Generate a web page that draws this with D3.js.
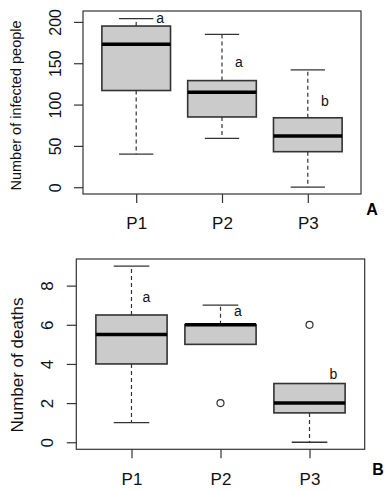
<!DOCTYPE html>
<html><head><meta charset="utf-8">
<script src="https://cdn.jsdelivr.net/npm/d3@7"></script>
<style>
html,body{margin:0;padding:0;background:#fff;}
svg{display:block;font-family:"Liberation Sans",Arial,sans-serif;}
</style></head>
<body>
<svg id="chart" width="392" height="492"></svg>
<script>
// ---- data ----
const categories = ["P1", "P2", "P3"];

// Panel A: Number of infected people
const infMin = [40, 59, 0];
const infQ1  = [117, 85, 43];
const infMed = [173, 115, 62];
const infQ3  = [195, 129, 84];
const infMax = [204, 185, 142];
const infOutliers = [[], [], []];
const infTicks = [0, 50, 100, 150, 200];
const infLetters = ["a", "a", "b"];
const infLetterY = [199, 146, 98];

// Panel B: Number of deaths
const deathMin = [1, 5, 0];
const deathQ1  = [4, 5, 1.5];
const deathMed = [5.5, 6, 2];
const deathQ3  = [6.5, 6, 3];
const deathMax = [9, 7, 3];
const deathOutliers = [[], [2], [6]];
const deathTicks = [0, 2, 4, 6, 8];
const deathLetters = ["a", "a", "b"];
const deathLetterY = [7.15, 6.47, 3.24];

const svg = d3.select("#chart");

function panel(cfg) {
  const g = svg.append("g");
  const x = d3.scaleLinear().domain([0.38, 3.62]).range([cfg.left, cfg.right]);
  const y = d3.scaleLinear().domain(cfg.ydom).range([cfg.bottom, cfg.top]);
  const unit = x(2) - x(1);
  const halfBox = unit * 0.4, halfCap = unit * 0.2;
  const stroke = "#333";

  const data = categories.map((c, i) => ({
    i: i + 1, c, min: cfg.min[i], q1: cfg.q1[i], med: cfg.med[i],
    q3: cfg.q3[i], max: cfg.max[i], out: cfg.out[i],
    letter: cfg.letters[i], ly: cfg.letterY[i], ldx: cfg.letterDx[i]
  }));

  // whiskers
  data.forEach(d => {
    if (d.max > d.q3) {
      g.append("line").attr("x1", x(d.i)).attr("x2", x(d.i))
        .attr("y1", y(d.q3)).attr("y2", y(d.max))
        .attr("stroke", stroke).attr("stroke-width", 1.2).attr("stroke-dasharray", "4,3");
      g.append("line").attr("x1", x(d.i) - halfCap).attr("x2", x(d.i) + halfCap)
        .attr("y1", y(d.max)).attr("y2", y(d.max))
        .attr("stroke", stroke).attr("stroke-width", 1.3);
    }
    if (d.min < d.q1) {
      g.append("line").attr("x1", x(d.i)).attr("x2", x(d.i))
        .attr("y1", y(d.q1)).attr("y2", y(d.min))
        .attr("stroke", stroke).attr("stroke-width", 1.2).attr("stroke-dasharray", "4,3");
      g.append("line").attr("x1", x(d.i) - halfCap).attr("x2", x(d.i) + halfCap)
        .attr("y1", y(d.min)).attr("y2", y(d.min))
        .attr("stroke", stroke).attr("stroke-width", 1.3);
    }
  });

  // boxes
  g.selectAll("rect.box").data(data).enter().append("rect")
    .attr("class", "box")
    .attr("x", d => x(d.i) - halfBox).attr("width", halfBox * 2)
    .attr("y", d => y(d.q3)).attr("height", d => y(d.q1) - y(d.q3))
    .attr("fill", "#cbcbcb").attr("stroke", stroke).attr("stroke-width", 1.6);

  // medians
  g.selectAll("line.med").data(data).enter().append("line")
    .attr("x1", d => x(d.i) - halfBox).attr("x2", d => x(d.i) + halfBox)
    .attr("y1", d => y(d.med)).attr("y2", d => y(d.med))
    .attr("stroke", "#000").attr("stroke-width", 3.5);

  // outliers
  data.forEach(d => d.out.forEach(v => {
    g.append("circle").attr("cx", x(d.i)).attr("cy", y(v)).attr("r", 3.5)
      .attr("fill", "none").attr("stroke", stroke).attr("stroke-width", 1.2);
  }));

  // letters
  g.selectAll("text.let").data(data).enter().append("text")
    .attr("x", d => x(d.i) + d.ldx).attr("y", d => y(d.ly))
    .attr("text-anchor", "middle").attr("font-size", 14).attr("fill", "#111")
    .text(d => d.letter);

  // frame
  g.append("rect").attr("x", cfg.left).attr("y", cfg.top)
    .attr("width", cfg.right - cfg.left).attr("height", cfg.bottom - cfg.top)
    .attr("fill", "none").attr("stroke", stroke).attr("stroke-width", 1.2);

  // y axis
  const yAxis = d3.axisLeft(y).tickValues(cfg.ticks).tickSize(cfg.tickLen).tickSizeOuter(0)
    .tickFormat(d3.format("d"));
  const ya = g.append("g").attr("transform", `translate(${cfg.left},0)`).call(yAxis);
  ya.select(".domain").remove();
  ya.selectAll(".tick line").attr("stroke", stroke).attr("stroke-width", 1.2);
  ya.selectAll(".tick text")
    .attr("x", null).attr("dy", null)
    .attr("transform", `translate(${cfg.tickLabelX - cfg.left},0) rotate(-90)`)
    .attr("text-anchor", "middle")
    .attr("font-size", cfg.tickFont).attr("fill", "#111")
    .attr("font-family", "Liberation Sans, Arial, sans-serif");

  // x axis
  const xAxis = d3.axisBottom(x).tickValues([1, 2, 3]).tickSize(cfg.xTickLen)
    .tickFormat(d => categories[d - 1]);
  const xa = g.append("g").attr("transform", `translate(0,${cfg.bottom})`).call(xAxis);
  xa.select(".domain").remove();
  xa.selectAll(".tick line").attr("stroke", stroke).attr("stroke-width", 1.2);
  xa.selectAll(".tick text").attr("y", cfg.xLabelBase - cfg.bottom).attr("dy", null)
    .attr("font-size", cfg.xFont).attr("fill", "#111")
    .attr("font-family", "Liberation Sans, Arial, sans-serif");

  // y title
  g.append("text")
    .attr("transform", `translate(${cfg.titleX},${cfg.titleY}) rotate(-90)`)
    .attr("text-anchor", "middle").attr("font-size", cfg.titleFont).attr("fill", "#111")
    .text(cfg.title);

  // panel letter
  g.append("text").attr("x", cfg.tagX).attr("y", cfg.tagY)
    .attr("text-anchor", "middle").attr("font-size", 16).attr("font-weight", "bold")
    .attr("fill", "#000").text(cfg.tag);
}

panel({
  left: 83, right: 361, top: 11, bottom: 194, ydom: [-8.2, 213.2],
  min: infMin, q1: infQ1, med: infMed, q3: infQ3, max: infMax, out: infOutliers,
  letters: infLetters, letterY: infLetterY, letterDx: [24, 17, 17],
  ticks: infTicks, tickLen: 9, tickLabelX: 60.5, tickFont: 16,
  xTickLen: 9, xLabelBase: 229, xFont: 17,
  title: "Number of infected people", titleX: 20.5, titleY: 105.5, titleFont: 14.5,
  tag: "A", tagX: 372, tagY: 215
});

panel({
  left: 76.3, right: 364.7, top: 259, bottom: 449.3, ydom: [-0.36, 9.36],
  min: deathMin, q1: deathQ1, med: deathMed, q3: deathQ3, max: deathMax, out: deathOutliers,
  letters: deathLetters, letterY: deathLetterY, letterDx: [15, 17.5, 24],
  ticks: deathTicks, tickLen: 9.5, tickLabelX: 53, tickFont: 17,
  xTickLen: 9, xLabelBase: 485, xFont: 17,
  title: "Number of deaths", titleX: 23, titleY: 365, titleFont: 17,
  tag: "B", tagX: 378, tagY: 475
});
</script>
</body></html>
